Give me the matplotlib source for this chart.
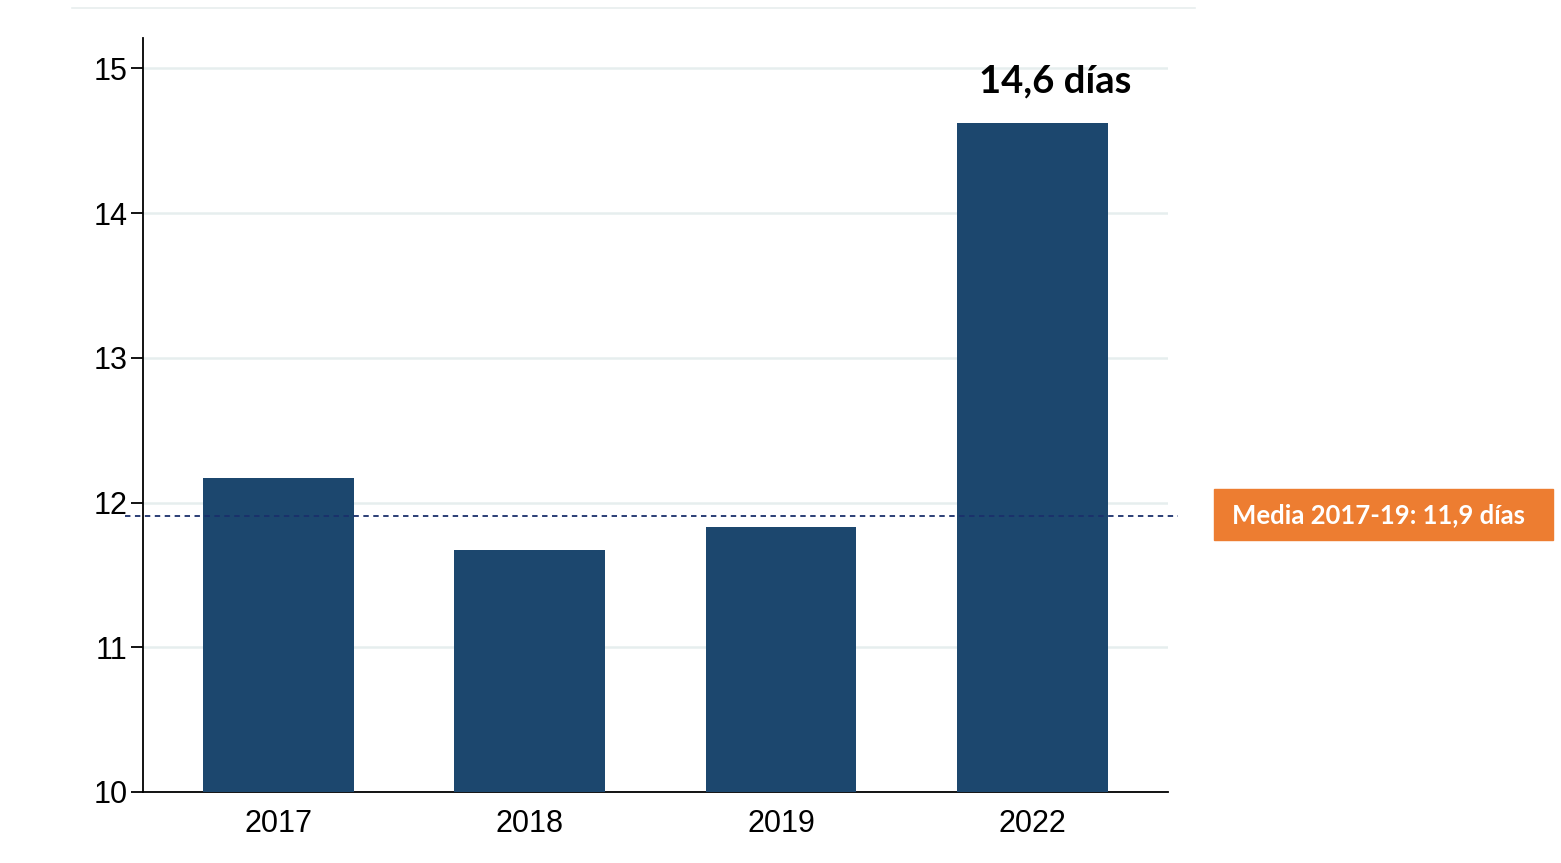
import matplotlib
matplotlib.use('Agg')
import matplotlib.pyplot as plt
from matplotlib.lines import Line2D
from matplotlib.patches import Rectangle

years = ['2017', '2018', '2019', '2022']
dias = [12.17, 11.67, 11.83, 14.62]
media = 11.91
etiqueta_max = '14,6 días'
etiqueta_media = 'Media 2017-19: 11,9 días'

plt.rcParams['font.family'] = ['Liberation Sans', 'DejaVu Sans']

fig = plt.figure(figsize=(15.61, 8.63), dpi=100)
ax = fig.add_axes([0.0916, 0.0823, 0.6566, 0.8737])

x = range(len(years))
ax.bar(x, dias, width=0.6, color='#1c476e', zorder=3)

ax.set_ylim(10, 15.21)
ax.set_xlim(-0.54, 3.54)
ax.set_yticks([10, 11, 12, 13, 14, 15])
ax.set_xticks(list(x))
ax.set_xticklabels(years)
ax.yaxis.grid(True, color='#e6eeee', linewidth=1.8, zorder=0)
ax.tick_params(axis='y', labelsize=22, length=9, width=1.3, pad=2)
ax.tick_params(axis='x', labelsize=22, length=0, pad=12)

for s in ['top', 'right']:
    ax.spines[s].set_visible(False)
ax.spines['left'].set_linewidth(1.3)
ax.spines['bottom'].set_linewidth(1.3)

# linea de la media
ax.plot([-0.61, 3.58], [media, media], linestyle=(0, (3, 2.5)), color='#1a2f6b',
        linewidth=1.3, clip_on=False, zorder=4)

ax.text(3.09, 14.62 + 0.17, etiqueta_max, ha='center', va='bottom',
        fontsize=27.5, fontweight='bold', family=['Lato', 'DejaVu Sans'], color='black')

# caja naranja
fig.patches.append(Rectangle((1214 / 1561, 1 - 540 / 863), 339 / 1561, 51 / 863,
                             transform=fig.transFigure, color='#ed7d31', zorder=1))
fig.text(1232 / 1561, 1 - 515 / 863, etiqueta_media, ha='left', va='center',
         fontsize=18.5, fontweight='bold', color='white', family=['Lato', 'DejaVu Sans'])

fig.add_artist(Line2D([72 / 1561, 1195 / 1561], [1 - 8 / 863, 1 - 8 / 863],
                      color='#e8eeee', linewidth=1.2))

fig.savefig('out.png', dpi=100)
